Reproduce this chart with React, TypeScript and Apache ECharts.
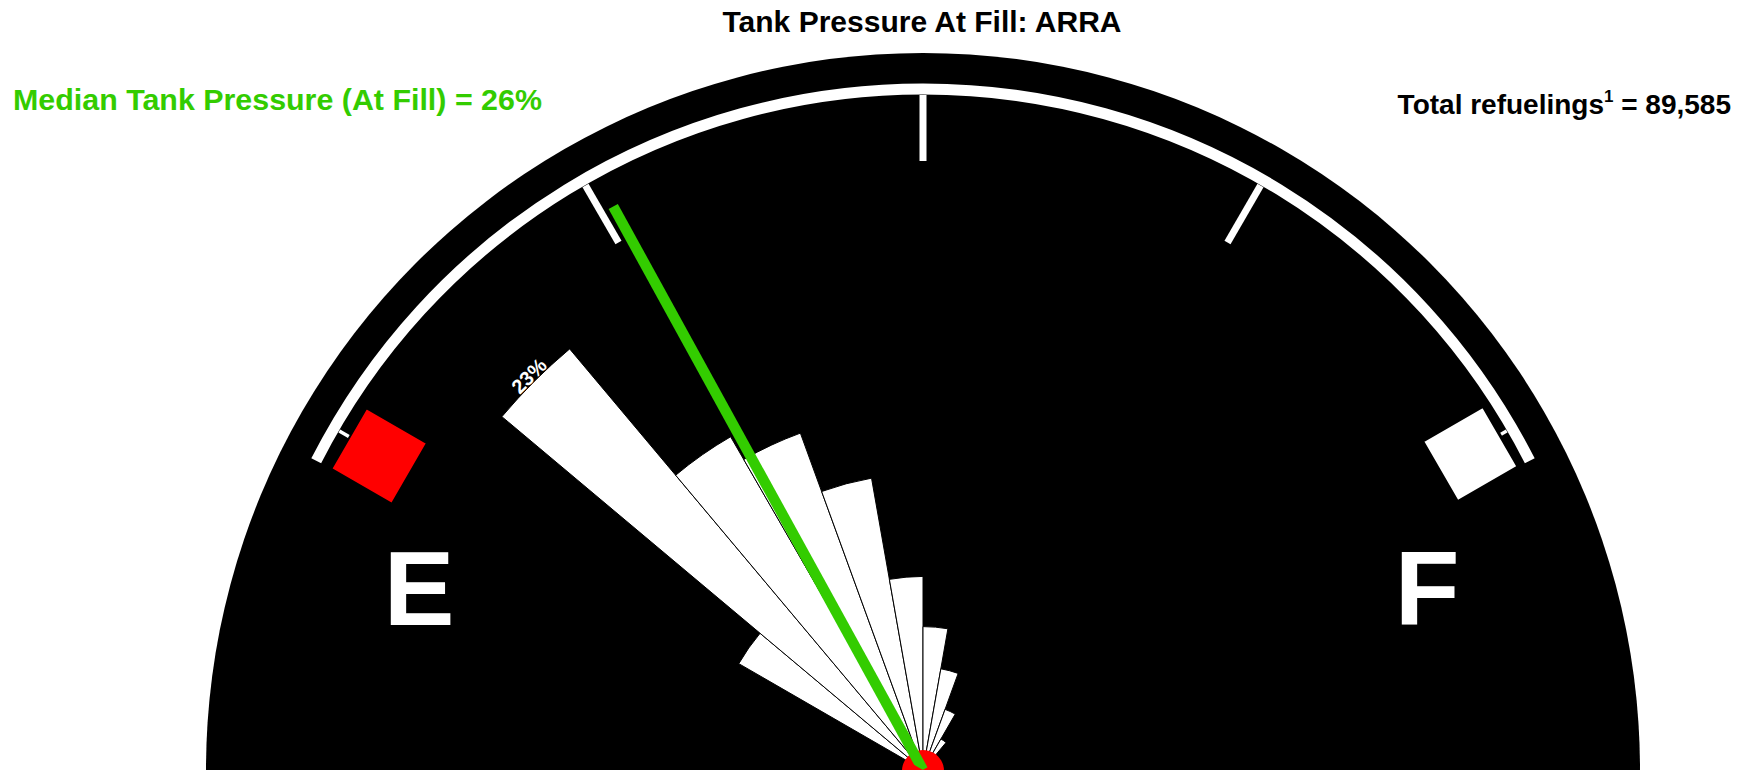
import React, { useEffect, useRef } from 'react';
import * as echarts from 'echarts';

// ---------------- data ----------------
const TITLE = 'Tank Pressure At Fill: ARRA';
const BIN_LABELS = ['0-8%', '8-17%', '17-25%', '25-33%', '33-42%', '42-50%', '50-58%', '58-67%', '67-75%', '75-83%', '83-92%', '92-100%'];
const BIN_SHARE = [8.9, 23.0, 16.1, 15.0, 12.4, 8.1, 6.0, 4.3, 2.7, 1.5, 0.7, 0.4];
const GAUGE_TICKS = [0, 25, 50, 75, 100];
const MEDIAN_PRESSURE = 26;
const TOTAL_REFUELINGS = 89585;
const EMPTY_LABEL = 'E';
const FULL_LABEL = 'F';

// ---------------- layout ----------------
const W = 1750;
const H = 770;
const CX = 923;
const CY = 770;
const R_OUT = 717;
const R_MAX = 30; // radius axis max (share %)
const START = 150;
const END = 30;
const ARC_R = 681;
const TICK_IN = 609;
const TICK_OUT = 675;
const NEEDLE_R = 643;
const GREEN = '#33CC00';
const FONT = 'Liberation Sans, Arial, Helvetica, sans-serif';

const pxToVal = (px: number) => (px / R_OUT) * R_MAX;
const angOf = (p: number) => START - (p / 100) * (START - END);

function squarePoints(pct: number, r: number, side: number) {
  const a = (angOf(pct) * Math.PI) / 180;
  const c = [CX + r * Math.cos(a), CY - r * Math.sin(a)];
  const u = [Math.cos(a), -Math.sin(a)];
  const t = [-Math.sin(a), -Math.cos(a)];
  const h = side / 2;
  return [
    [c[0] + h * u[0] + h * t[0], c[1] + h * u[1] + h * t[1]],
    [c[0] + h * u[0] - h * t[0], c[1] + h * u[1] - h * t[1]],
    [c[0] - h * u[0] - h * t[0], c[1] - h * u[1] - h * t[1]],
    [c[0] - h * u[0] + h * t[0], c[1] - h * u[1] + h * t[1]],
  ];
}

export default function App() {
  const ref = useRef<HTMLDivElement>(null);

  useEffect(() => {
    if (!ref.current) return;
    const chart = echarts.init(ref.current, null, { renderer: 'svg', width: W, height: H });

    const tickSeries = GAUGE_TICKS.map((t) => ({
      type: 'line',
      coordinateSystem: 'polar',
      polarIndex: 1,
      symbol: 'none',
      silent: true,
      z: 5,
      lineStyle: { color: '#fff', width: 7, cap: 'butt' },
      data: [
        [pxToVal(TICK_IN), t],
        [pxToVal(TICK_OUT), t],
      ],
    }));

    const deg = Math.PI / 180;

    chart.setOption({
      animation: false,
      backgroundColor: '#fff',
      polar: [
        { center: [CX, CY], radius: [0, R_OUT] },
        { center: [CX, CY], radius: [0, R_OUT] },
      ],
      angleAxis: [
        { polarIndex: 0, type: 'category', data: BIN_LABELS, startAngle: START, endAngle: END, clockwise: true, show: false },
        { polarIndex: 1, type: 'value', min: 0, max: 100, startAngle: START, endAngle: END, clockwise: true, show: false },
      ],
      radiusAxis: [
        { polarIndex: 0, type: 'value', min: 0, max: R_MAX, show: false },
        { polarIndex: 1, type: 'value', min: 0, max: R_MAX, show: false },
      ],
      series: [
        {
          type: 'bar',
          coordinateSystem: 'polar',
          polarIndex: 0,
          data: BIN_SHARE,
          barCategoryGap: '0%',
          z: 2,
          itemStyle: { color: '#fff', borderColor: '#000', borderWidth: 1 },
        },
        ...tickSeries,
        {
          type: 'line',
          coordinateSystem: 'polar',
          polarIndex: 1,
          symbol: 'none',
          z: 20,
          lineStyle: { color: GREEN, width: 10.5, cap: 'butt' },
          data: [
            [0, MEDIAN_PRESSURE],
            [pxToVal(NEEDLE_R), MEDIAN_PRESSURE],
          ],
        },
      ],
      graphic: {
        elements: [
          { id: 'bg', type: 'circle', z: -10, shape: { cx: CX, cy: CY, r: R_OUT }, style: { fill: '#000' } },
          {
            id: 'arc',
            type: 'arc',
            z: 5,
            shape: { cx: CX, cy: CY, r: ARC_R, startAngle: -(START + 3) * deg, endAngle: -(END - 3) * deg, clockwise: true },
            style: { stroke: '#fff', lineWidth: 11, fill: null },
          },
          { id: 'sqE', type: 'polygon', z: 12, shape: { points: squarePoints(0, 628, 70) }, style: { fill: '#FF0000', stroke: '#000', lineWidth: 2 } },
          { id: 'sqF', type: 'polygon', z: 12, shape: { points: squarePoints(100, 632, 70) }, style: { fill: '#FFFFFF', stroke: '#000', lineWidth: 3 } },
          {
            id: 'E',
            type: 'text',
            z: 12,
            x: CX - 504,
            y: 588,
            style: { text: EMPTY_LABEL, fill: '#fff', font: `bold 106px ${FONT}`, textAlign: 'center', textVerticalAlign: 'middle' },
          },
          {
            id: 'F',
            type: 'text',
            z: 12,
            x: CX + 504,
            y: 588,
            style: { text: FULL_LABEL, fill: '#fff', font: `bold 106px ${FONT}`, textAlign: 'center', textVerticalAlign: 'middle' },
          },
          { id: 'hub', type: 'circle', z: 15, shape: { cx: CX, cy: CY + 1, r: 21 }, style: { fill: '#FF0000' } },
          {
            id: 'title',
            type: 'text',
            z: 30,
            x: 922,
            y: 21,
            style: { text: TITLE, fill: '#000', font: `bold 30px ${FONT}`, textAlign: 'center', textVerticalAlign: 'middle' },
          },
          {
            id: 'median',
            type: 'text',
            z: 30,
            x: 13,
            y: 99,
            style: {
              text: `Median Tank Pressure (At Fill) = ${MEDIAN_PRESSURE}%`,
              fill: GREEN,
              font: `bold 30.4px ${FONT}`,
              textAlign: 'left',
              textVerticalAlign: 'middle',
            },
          },
          {
            id: 'total',
            type: 'text',
            z: 30,
            x: 1731,
            y: 104,
            style: {
              text: `{a|Total refuelings}{s|1}{a| = ${TOTAL_REFUELINGS.toLocaleString('en-US')}}`,
              textAlign: 'right',
              textVerticalAlign: 'middle',
              rich: {
                a: { fontFamily: FONT, fontWeight: 'bold', fontSize: 28, fill: '#000', color: '#000', lineHeight: 33 },
                s: { fontFamily: FONT, fontWeight: 'bold', fontSize: 17, fill: '#000', color: '#000', verticalAlign: 'top', lineHeight: 18 },
              },
            },
          },
        ],
      },
    });

    // label for the largest bin, placed via the polar scale
    let maxIdx = 0;
    BIN_SHARE.forEach((v, i) => {
      if (v > BIN_SHARE[maxIdx]) maxIdx = i;
    });
    const pos = chart.convertToPixel({ polarIndex: 0 } as any, [BIN_SHARE[maxIdx] + 0.32, maxIdx]) as number[];
    const binAngle = START - (maxIdx + 0.5) * ((START - END) / BIN_LABELS.length);
    if (pos && pos.length === 2) {
      chart.setOption({
        graphic: {
          elements: [
            {
              id: 'maxLabel',
              type: 'text',
              z: 30,
              x: pos[0],
              y: pos[1],
              rotation: ((binAngle - 90) * Math.PI) / 180,
              style: {
                text: `${Math.round(BIN_SHARE[maxIdx])}%`,
                fill: '#fff',
                font: `bold 20px ${FONT}`,
                textAlign: 'center',
                textVerticalAlign: 'middle',
              },
            },
          ],
        },
      });
    }

    return () => chart.dispose();
  }, []);

  return <div ref={ref} style={{ position: 'absolute', left: 0, top: 0, width: W, height: H }} />;
}
